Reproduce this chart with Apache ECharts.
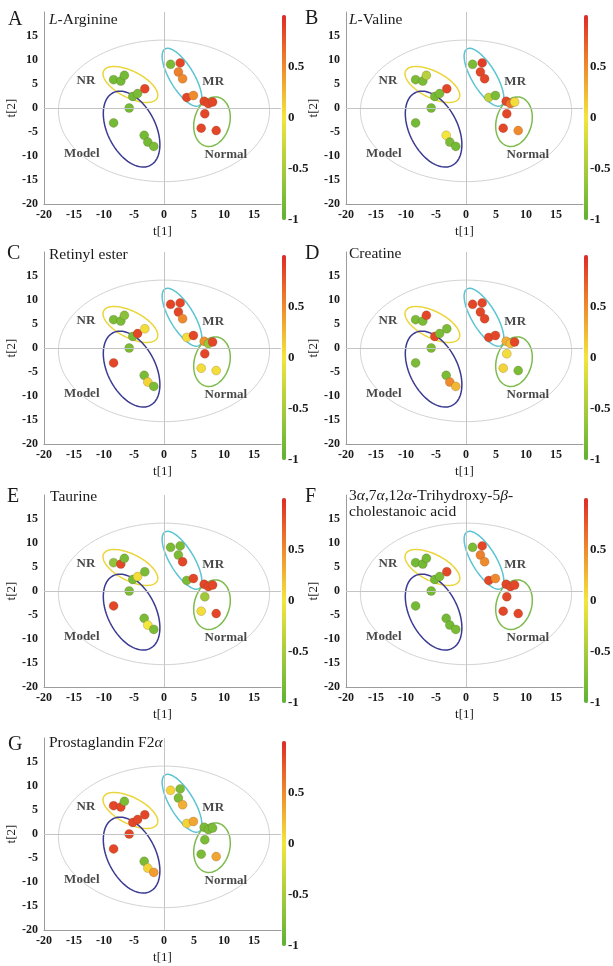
<!DOCTYPE html>
<html>
<head>
<meta charset="utf-8">
<script src="https://cdn.jsdelivr.net/npm/echarts@6/dist/echarts.min.js"></script>
<style>
html,body{margin:0;padding:0;background:#fff;}
#chart{width:613px;height:966px;}
</style>
</head>
<body>
<div id="chart"></div>
<script>
// ---------- DATA ----------
// score-plot coordinates (shared by all panels)
const T1 = [-8.4,-7.2,-6.6,-5.2,-4.4,-3.2,-5.8,-8.4,-3.3,-2.7,-1.7,1.1,2.7,2.4,3.1,3.8,4.9,6.7,7.4,8.1,6.8,6.2,8.7];
const T2 = [5.9,5.6,6.8,2.4,3.0,4.0,0.0,-3.1,-5.7,-7.1,-8.0,9.1,9.4,7.5,6.1,2.2,2.6,1.4,0.9,1.25,-1.2,-4.2,-4.7];
// correlation colour values per metabolite panel
const corrA = [-0.85,-0.85,-0.85,-0.85,-0.8,0.85,-0.85,-0.85,-0.85,-0.85,-0.8,-0.8,0.85,0.55,0.5,0.85,0.5,0.85,0.85,0.85,0.85,0.85,0.85];
const corrB = [-0.8,-0.8,-0.4,-0.85,-0.8,0.85,-0.85,-0.85,0.0,-0.8,-0.85,-0.8,0.9,0.85,0.85,-0.35,-0.8,0.85,0.6,0.05,0.85,0.85,0.5];
const corrC = [-0.8,-0.8,-0.7,-0.8,0.85,0.05,-0.8,0.85,-0.8,0.1,-0.8,0.85,0.85,0.85,0.5,0.05,0.85,0.45,-0.6,0.85,0.85,0.05,0.05];
const corrD = [-0.8,-0.8,0.85,0.85,-0.8,-0.8,-0.8,-0.8,-0.8,0.5,0.25,0.85,0.85,0.85,0.85,0.85,0.85,0.3,0.2,0.85,0.05,0.1,-0.8];
const corrE = [-0.65,0.85,-0.8,-0.8,0.05,-0.8,-0.8,0.85,-0.8,0.0,-0.8,-0.8,-0.8,-0.8,0.85,-0.8,0.85,0.85,0.85,0.85,-0.55,0.05,0.85];
const corrF = [-0.85,-0.85,-0.85,-0.85,-0.8,0.85,-0.85,-0.85,-0.85,-0.85,-0.8,-0.8,0.85,0.55,0.5,0.85,0.5,0.85,0.85,0.85,0.85,0.85,0.85];
const corrG = [0.85,0.85,-0.8,0.85,0.85,0.85,0.85,0.85,-0.8,0.1,0.4,0.1,-0.8,-0.8,0.3,0.1,0.35,-0.8,-0.8,-0.8,-0.8,-0.8,0.35];
// panel letters and titles
const LETTERS = ['A','B','C','D','E','F','G'];
const TITLES = ['{i|L}-Arginine','{i|L}-Valine','Retinyl ester','Creatine','Taurine',
  '3{i|α},7{i|α},12{i|α}-Trihydroxy-5{i|β}-\ncholestanoic acid','Prostaglandin F2{i|α}'];
// group labels (name, t1, t2)
const GROUP_NAMES = ['NR','MR','Model','Normal'];
const GROUP_X = [-13.0, 8.2, -13.7, 10.3];
const GROUP_Y = [5.6, 5.4, -9.6, -9.8];
// confidence ellipses: centre, semi-axes (x-units), rotation (deg)
const ELL_NAMES = ['T2','NR','Model','MR','Normal'];
const ELL_CX = [0.0, -5.6, -5.4, 3.0, 8.0];
const ELL_CY = [-0.6, 4.9, -4.4, 6.4, -2.85];
const ELL_A  = [17.6, 5.0, 6.8, 5.5, 4.2];
const ELL_B  = [11.8, 2.2, 4.0, 2.0, 2.95];
const ELL_ANG= [0, -27, -63, -59, 75];
// ticks
const AXIS_MIN = -20, AXIS_TICK = 5;
const CB_MIN = -1, CB_MAX = 1, CB_TICK = 0.5;

// ---------- STYLE / LAYOUT ----------
const FONT = '"Liberation Serif","Times New Roman",serif';
const ELL_COLORS = ['#d3d3d3','#ecd53a','#3a3a92','#5cc4d2','#7ebb4e'];
const ELL_WIDTHS = [1, 1.5, 1.5, 1.5, 1.5];
const CB_COLORS = ['#5db233','#a7cc3b','#f3e63c','#ef8a2d','#df2a26'];
const OFFS = [[0,0],[302,0],[0,240],[302,240],[0,483],[302,483],[0,726]];
const LETTER_POS = [[8,9.5],[3,8.5],[7,3.5],[3,3.5],[7,3.5],[3,3.5],[8,9]];
const TITLE_POS = [[49,12],[47,12],[49,6.5],[47,6],[50,5.5],[47,4.5],[49,9]];
const CORRS = [corrA,corrB,corrC,corrD,corrE,corrF,corrG];

const grids=[], xAxes=[], yAxes=[], series=[], visualMaps=[], titles=[];
const axisText = {fontFamily:FONT, fontWeight:'bold', fontSize:12, color:'#1a1a1a'};

CORRS.forEach((corr, i) => {
  const [ox, oy] = OFFS[i];
  const gMain = grids.length;
  grids.push({left: ox+44, top: oy+12, width: 237, height: 192, outerBoundsMode:'none', containLabel:false});
  const gCb = grids.length;
  grids.push({left: ox+282, top: oy+15, width: 4, height: 205, outerBoundsMode:'none', containLabel:false});

  xAxes.push({type:'value', gridIndex:gMain, min:AXIS_MIN, max:19.5, interval:AXIS_TICK,
    axisLine:{show:true, onZero:false, lineStyle:{color:'#9c9c9c', width:1}},
    axisTick:{show:false}, splitLine:{show:false},
    axisLabel:Object.assign({showMaxLabel:false, margin:5}, axisText),
    name:'t[1]', nameLocation:'middle', nameGap:21,
    nameTextStyle:{fontFamily:FONT, fontSize:13, color:'#1a1a1a'}});
  yAxes.push({type:'value', gridIndex:gMain, min:AXIS_MIN, max:20, interval:AXIS_TICK,
    axisLine:{show:true, onZero:false, lineStyle:{color:'#9c9c9c', width:1}},
    axisTick:{show:false}, splitLine:{show:false},
    axisLabel:Object.assign({showMaxLabel:false, margin:6}, axisText),
    name:'t[2]', nameLocation:'middle', nameGap:26, nameRotate:90,
    nameTextStyle:{fontFamily:FONT, fontSize:13, color:'#1a1a1a'}});
  xAxes.push({type:'value', gridIndex:gCb, show:false, min:0, max:1});
  yAxes.push({type:'value', gridIndex:gCb, min:CB_MIN, max:CB_MAX, interval:CB_TICK, position:'right',
    axisLine:{show:false}, axisTick:{show:false}, splitLine:{show:false},
    axisLabel:{showMaxLabel:false, margin:2, fontFamily:FONT, fontWeight:'bold', fontSize:13, color:'#1a1a1a'}});

  // ellipses + zero lines
  series.push({
    type:'custom', xAxisIndex:gMain, yAxisIndex:gMain, z:1, silent:true,
    data: ELL_CX.map((cx,k)=>[cx, ELL_CY[k], ELL_A[k], ELL_B[k], ELL_ANG[k]]),
    renderItem: function(params, api){
      const k = params.dataIndex;
      const c = api.coord([api.value(0), api.value(1)]);
      const sx = api.size([1,0])[0];
      const a = api.value(2)*sx, b = api.value(3)*sx, phi = api.value(4)*Math.PI/180;
      const pts=[];
      for(let t=0;t<=96;t++){
        const th=t/96*2*Math.PI, ex=a*Math.cos(th), ey=b*Math.sin(th);
        pts.push([c[0]+ex*Math.cos(phi)-ey*Math.sin(phi), c[1]-(ex*Math.sin(phi)+ey*Math.cos(phi))]);
      }
      return {type:'polyline', shape:{points:pts}, style:{stroke:ELL_COLORS[k], fill:null, lineWidth:ELL_WIDTHS[k]}};
    },
    markLine:{silent:true, symbol:['none','none'], label:{show:false},
      lineStyle:{color:'#c4c4c4', width:1, type:'solid'},
      data:[{xAxis:0},{yAxis:0}]}
  });
  // points
  const ptIdx = series.length;
  series.push({
    type:'scatter', xAxisIndex:gMain, yAxisIndex:gMain, z:3, symbolSize:9,
    itemStyle:{borderColor:'rgba(90,60,40,0.35)', borderWidth:0.6, opacity:1},
    data: T1.map((x,k)=>[x, T2[k], corr[k]])
  });
  // group labels
  series.push({
    type:'scatter', xAxisIndex:gMain, yAxisIndex:gMain, z:4, symbolSize:0, silent:true,
    data: GROUP_NAMES.map((n,k)=>({name:n, value:[GROUP_X[k], GROUP_Y[k]]})),
    label:{show:true, position:'inside', formatter:'{b}', fontFamily:FONT, fontWeight:'bold', fontSize:13, color:'#1a1a1a'}
  });
  visualMaps.push({type:'continuous', min:CB_MIN, max:CB_MAX, dimension:2, seriesIndex:ptIdx,
    left: ox+282, top: oy+15, itemWidth:4, itemHeight:205, padding:0, calculable:false,
    hoverLink:false, text:null, orient:'vertical', inRange:{color:CB_COLORS}});

  titles.push({text:LETTERS[i], left:ox+LETTER_POS[i][0], top:oy+LETTER_POS[i][1], padding:0,
    textStyle:{fontFamily:FONT, fontSize:20, fontWeight:'normal', color:'#1a1a1a', lineHeight:20}});
  titles.push({text:TITLES[i], left:ox+TITLE_POS[i][0], top:oy+TITLE_POS[i][1], padding:0,
    textStyle:{fontFamily:FONT, fontSize:15.5, fontWeight:'normal', color:'#1a1a1a', lineHeight:16,
      rich:{i:{fontFamily:FONT, fontSize:15.5, fontStyle:'italic', color:'#1a1a1a', lineHeight:16}}}});
});

const chart = echarts.init(document.getElementById('chart'), null, {renderer:'canvas'});
chart.setOption({
  backgroundColor:'#ffffff',
  animation:false,
  title:titles, grid:grids, xAxis:xAxes, yAxis:yAxes, visualMap:visualMaps, series:series
});
</script>
</body>
</html>
